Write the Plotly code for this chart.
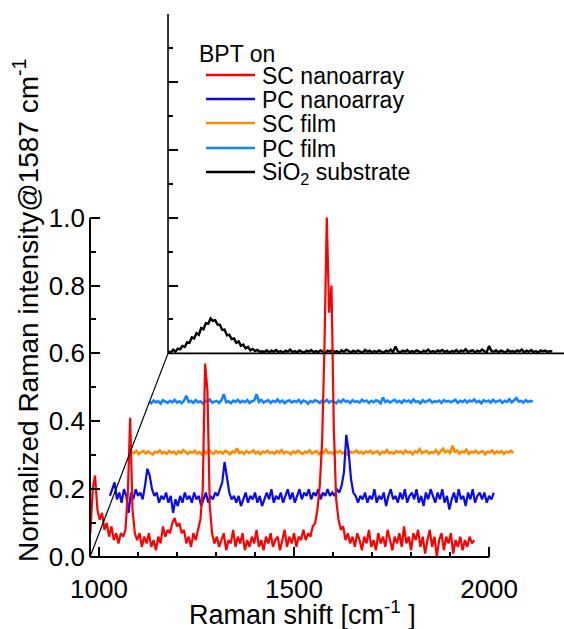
import plotly.graph_objects as go

# ---------------- data ----------------
WAVENUMBER = [
    978, 984, 990, 996, 1002, 1008, 1014, 1020, 1026, 1032,
    1038, 1044, 1050, 1056, 1062, 1068, 1074, 1080, 1086, 1092,
    1098, 1104, 1110, 1116, 1122, 1128, 1134, 1140, 1146, 1152,
    1158, 1164, 1170, 1176, 1182, 1188, 1194, 1200, 1206, 1212,
    1218, 1224, 1230, 1236, 1242, 1248, 1254, 1260, 1266, 1272,
    1278, 1284, 1290, 1296, 1302, 1308, 1314, 1320, 1326, 1332,
    1338, 1344, 1350, 1356, 1362, 1368, 1374, 1380, 1386, 1392,
    1398, 1404, 1410, 1416, 1422, 1428, 1434, 1440, 1446, 1452,
    1458, 1464, 1470, 1476, 1482, 1488, 1494, 1500, 1506, 1512,
    1518, 1524, 1530, 1536, 1542, 1548, 1554, 1560, 1566, 1572,
    1578, 1584, 1590, 1596, 1602, 1608, 1614, 1620, 1626, 1632,
    1638, 1644, 1650, 1656, 1662, 1668, 1674, 1680, 1686, 1692,
    1698, 1704, 1710, 1716, 1722, 1728, 1734, 1740, 1746, 1752,
    1758, 1764, 1770, 1776, 1782, 1788, 1794, 1800, 1806, 1812,
    1818, 1824, 1830, 1836, 1842, 1848, 1854, 1860, 1866, 1872,
    1878, 1884, 1890, 1896, 1902, 1908, 1914, 1920, 1926, 1932,
    1938, 1944, 1950, 1956, 1962,
]

SC_NANOARRAY = [
    0.07, 0.20, 0.24, 0.14, 0.11, 0.13, 0.08, 0.10, 0.06, 0.09,
    0.05, 0.07, 0.04, 0.07, 0.06, 0.08, 0.19, 0.41, 0.14, 0.07,
    0.05, 0.07, 0.03, 0.06, 0.04, 0.07, 0.03, 0.05, 0.02, 0.06,
    0.04, 0.09, 0.06, 0.08, 0.07, 0.10, 0.115, 0.09, 0.10, 0.07,
    0.08, 0.04, 0.06, 0.03, 0.07, 0.05, 0.08, 0.11, 0.20, 0.57,
    0.49, 0.15, 0.07, 0.04, 0.06, 0.03, 0.05, 0.07, 0.02, 0.05,
    0.04, 0.08, 0.03, 0.06, 0.04, 0.07, 0.02, 0.05, 0.03, 0.06,
    0.04, 0.08, 0.03, 0.05, 0.02, 0.06, 0.04, 0.07, 0.03, 0.05,
    0.06, 0.02, 0.05, 0.08, 0.03, 0.06, 0.04, 0.07, 0.03, 0.06,
    0.05, 0.08, 0.05, 0.07, 0.06, 0.09, 0.10, 0.14, 0.21, 0.34,
    0.62, 1.00, 0.72, 0.80, 0.38, 0.17, 0.11, 0.08, 0.09, 0.05,
    0.07, 0.04, 0.06, 0.03, 0.07, 0.05, 0.02, 0.06, 0.04, 0.08,
    0.03, 0.05, 0.02, 0.07, 0.04, 0.06, 0.03, 0.08, 0.05, 0.02,
    0.06, 0.04, 0.07, 0.03, 0.09, 0.04, 0.06, 0.02, 0.07, 0.05,
    0.08, 0.03, 0.06, 0.01, 0.05, 0.08, 0.03, 0.06, 0.00, 0.05,
    0.07, 0.02, 0.06, 0.04, 0.07, 0.01, 0.05, 0.03, 0.06, 0.02,
    0.05, 0.03, 0.06, 0.04, 0.05,
]

PC_NANOARRAY = [
    0.03, 0.05, 0.07, 0.02, 0.04, 0.01, 0.05, 0.03, -0.02, 0.04,
    0.02, 0.05, 0.03, 0.04, 0.02, 0.06, 0.11, 0.09, 0.05, 0.03,
    0.04, 0.01, 0.03, 0.02, 0.04, 0.01, 0.03, -0.02, 0.02, 0.00,
    0.03, 0.01, 0.04, 0.02, 0.03, 0.01, 0.04, 0.02, 0.03, 0.00,
    0.02, 0.04, 0.01, 0.03, 0.02, 0.04, 0.03, 0.05, 0.07, 0.13,
    0.08, 0.04, 0.02, 0.03, 0.01, 0.03, 0.00, 0.02, 0.04, 0.01,
    0.03, 0.02, 0.04, 0.01, 0.03, 0.00, 0.02, 0.04, 0.02, 0.05,
    0.01, 0.03, 0.02, 0.04, 0.01, 0.03, 0.05, 0.02, 0.04, 0.01,
    0.03, 0.05, 0.02, 0.04, 0.03, 0.05, 0.02, 0.04, 0.03, 0.05,
    0.02, 0.04, 0.03, 0.05, 0.03, 0.04, 0.03, 0.05, 0.04, 0.06,
    0.10, 0.21, 0.16, 0.08, 0.04, 0.03, 0.01, 0.03, 0.02, 0.04,
    0.01, 0.03, 0.02, 0.05, 0.01, 0.03, 0.02, 0.04, 0.00, 0.03,
    0.05, 0.02, 0.03, 0.01, 0.04, 0.02, 0.05, 0.01, 0.03, 0.04,
    0.02, 0.05, 0.01, 0.03, 0.00, 0.04, 0.02, 0.05, 0.03, 0.01,
    0.04, 0.02, 0.05, 0.01, 0.03, -0.01, 0.02, 0.04, 0.01, 0.05,
    0.02, 0.03, 0.00, 0.04, 0.02, 0.05, 0.01, 0.03, 0.04, 0.02,
    0.04, 0.01, 0.03, 0.02, 0.04,
]

SC_FILM = [
    0.004, 0.010, 0.006, 0.013, 0.003, 0.009, 0.012, 0.005, 0.011, 0.007,
    0.002, 0.010, 0.008, 0.014, 0.005, 0.009, 0.004, 0.012, 0.007, 0.010,
    0.003, 0.011, 0.006, 0.015, 0.008, 0.004, 0.010, 0.007, 0.013, 0.005,
    0.009, 0.002, 0.011, 0.006, 0.016, 0.008, 0.004, 0.012, 0.007, 0.010,
    0.005, 0.013, 0.009, 0.003, 0.011, 0.008, 0.020, 0.006, 0.010, 0.004,
    0.012, 0.007, 0.009, 0.014, 0.005, 0.010, 0.003, 0.011, 0.008, 0.013,
    0.006, 0.009, 0.004, 0.012, 0.007, 0.015, 0.005, 0.010, 0.008, 0.003,
    0.011, 0.006, 0.013, 0.009, 0.004, 0.010, 0.007, 0.014, 0.005, 0.009,
    0.012, 0.003, 0.010, 0.007, 0.016, 0.006, 0.009, 0.004, 0.011, 0.008,
    0.013, 0.005, 0.010, 0.002, 0.012, 0.007, 0.009, 0.014, 0.006, 0.010,
    0.004, 0.011, 0.008, 0.013, 0.005, 0.009, 0.012, 0.003, 0.010, 0.007,
    0.015, 0.006, 0.009, 0.004, 0.012, 0.008, 0.011, 0.005, 0.014, 0.007,
    0.010, 0.003, 0.012, 0.008, 0.018, 0.006, 0.010, 0.013, 0.005, 0.009,
    0.007, 0.015, 0.004, 0.011, 0.019, 0.008, 0.013, 0.006, 0.028, 0.010,
    0.014, 0.005, 0.011, 0.008, 0.016, 0.004, 0.010, 0.007, 0.013, 0.006,
    0.009, 0.012, 0.003, 0.010, 0.008, 0.014, 0.005, 0.011, 0.007, 0.012,
    0.004, 0.010, 0.008, 0.013, 0.006,
]

PC_FILM = [
    0.008, 0.003, 0.011, 0.006, 0.009, 0.002, 0.012, 0.007, 0.004, 0.010,
    0.006, 0.013, 0.005, 0.009, 0.003, 0.011, 0.025, 0.007, 0.010, 0.004,
    0.012, 0.006, 0.009, 0.002, 0.011, 0.007, 0.014, 0.005, 0.008, 0.010,
    0.004, 0.012, 0.030, 0.006, 0.009, 0.003, 0.011, 0.007, 0.013, 0.005,
    0.010, 0.006, 0.012, 0.004, 0.009, 0.011, 0.030, 0.007, 0.013, 0.005,
    0.009, 0.012, 0.004, 0.010, 0.007, 0.014, 0.006, 0.011, 0.003, 0.009,
    0.012, 0.005, 0.010, 0.007, 0.013, 0.004, 0.011, 0.008, 0.002, 0.010,
    0.006, 0.012, 0.009, 0.004, 0.011, 0.007, 0.013, 0.005, 0.010, 0.008,
    0.003, 0.011, 0.006, 0.014, 0.008, 0.010, 0.004, 0.012, 0.007, 0.009,
    0.005, 0.013, 0.008, 0.011, 0.004, 0.010, 0.006, 0.012, 0.009, 0.003,
    0.020, 0.007, 0.011, 0.005, 0.009, 0.013, 0.006, 0.010, 0.004, 0.012,
    0.008, 0.011, 0.005, 0.014, 0.007, 0.009, 0.003, 0.012, 0.006, 0.010,
    0.013, 0.005, 0.009, 0.007, 0.011, 0.004, 0.012, 0.008, 0.010, 0.006,
    0.009, 0.013, 0.004, 0.010, 0.007, 0.012, 0.005, 0.011, 0.008, 0.014,
    0.006, 0.010, 0.003, 0.012, 0.008, 0.011, 0.005, 0.013, 0.007, 0.009,
    0.012, 0.004, 0.010, 0.007, 0.015, 0.006, 0.011, 0.018, 0.008, 0.010,
    0.005, 0.012, 0.007, 0.010, 0.008,
]

SIO2_SUBSTRATE = [
    0.006, 0.002, 0.011, 0.005, 0.014, 0.012, 0.022, 0.019, 0.033, 0.031,
    0.047, 0.044, 0.060, 0.055, 0.075, 0.071, 0.089, 0.087, 0.103, 0.096,
    0.098, 0.085, 0.084, 0.069, 0.070, 0.053, 0.055, 0.042, 0.044, 0.031,
    0.035, 0.022, 0.026, 0.015, 0.019, 0.009, 0.013, 0.007, 0.010, 0.005,
    0.006, 0.004, 0.009, 0.003, 0.008, 0.005, 0.010, 0.004, 0.007, 0.002,
    0.008, 0.005, 0.011, 0.004, 0.007, 0.003, 0.009, 0.006, 0.002, 0.008,
    0.005, 0.010, 0.003, 0.007, 0.004, 0.009, 0.006, 0.001, 0.008, 0.005,
    0.010, 0.004, 0.007, 0.002, 0.009, 0.005, 0.011, 0.006, 0.003, 0.008,
    0.004, 0.009, 0.006, 0.002, 0.010, 0.005, 0.008, 0.003, 0.007, 0.004,
    0.009, 0.006, 0.002, 0.008, 0.005, 0.011, 0.004, 0.020, 0.006, 0.003,
    0.008, 0.005, 0.010, 0.003, 0.007, 0.004, 0.009, 0.006, 0.002, 0.008,
    0.005, 0.011, 0.004, 0.007, 0.003, 0.009, 0.006, 0.010, 0.004, 0.008,
    0.002, 0.007, 0.005, 0.010, 0.003, 0.008, 0.006, 0.012, 0.004, 0.007,
    0.009, 0.003, 0.008, 0.005, 0.011, 0.006, 0.004, 0.022, 0.007, 0.005,
    0.009, 0.003, 0.008, 0.006, 0.002, 0.010, 0.005, 0.007, 0.004, 0.009,
    0.006, 0.011, 0.003, 0.008, 0.005, 0.010, 0.004, 0.007, 0.002, 0.009,
    0.006, 0.008, 0.004, 0.007, 0.005,
]

SERIES_NAMES = ["SC nanoarray", "PC nanoarray", "SC film", "PC film",
                "SiO<sub>2</sub> substrate"]
SERIES_VALUES = [SC_NANOARRAY, PC_NANOARRAY, SC_FILM, PC_FILM, SIO2_SUBSTRATE]
SERIES_COLORS = ["#FF0000", "#0A0AF0", "#FF8A00", "#1284FF", "#000000"]
SERIES_WIDTHS = [2.2, 2.2, 2.6, 2.6, 2.4]
# waterfall offsets (x in cm-1, y in normalized intensity)
OFFSET_X = [0, 50, 100, 150, 200]
OFFSET_Y = [0.0, 0.15, 0.30, 0.45, 0.60]

X_TICKS = [1000, 1500, 2000]
X_MINOR = [1100, 1200, 1300, 1400, 1600, 1700, 1800, 1900]
Y_TICKS = [0.0, 0.2, 0.4, 0.6, 0.8, 1.0]
Y_MINOR = [0.1, 0.3, 0.5, 0.7, 0.9]
BACK_TICKS = [0.8, 1.0, 1.2, 1.4, 1.6]
BACK_MINOR = [0.7, 0.9, 1.1, 1.3, 1.5]

for v in SERIES_VALUES:
    assert len(v) == len(WAVENUMBER)

# ---------------- layout geometry ----------------
W, H = 564, 629
ML, MR, MT, MB = 90, 0, 14, 72
X0, Y0 = 977, 0.0          # origin of front axes
X_END, Y_END = 2000, 1.0   # end of front axes
X_RANGE = [X0, 2192]
Y_RANGE = [Y0, 1.6]
BX, BY = X0 + OFFSET_X[-1], Y0 + OFFSET_Y[-1]   # origin of back axes

FONT = "Liberation Sans, Arial, Helvetica, sans-serif"
PW, PH = W - ML - MR, H - MT - MB


def px(xp):
    return (xp - ML) / PW


def py(yp):
    return (H - MB - yp) / PH


def xfrac(x):
    return (x - X_RANGE[0]) / (X_RANGE[1] - X_RANGE[0])


fig = go.Figure()

# draw back-to-front: SiO2 first, SC nanoarray last
for i in reversed(range(len(SERIES_VALUES))):
    fig.add_trace(go.Scatter(
        x=[w + OFFSET_X[i] for w in WAVENUMBER],
        y=[v + OFFSET_Y[i] for v in SERIES_VALUES[i]],
        mode="lines",
        name=SERIES_NAMES[i],
        line=dict(color=SERIES_COLORS[i], width=SERIES_WIDTHS[i]),
        showlegend=False,
        hoverinfo="skip",
    ))

# empty trace so the "back plane" subplot (x2/y2) exists for its tick marks
fig.add_trace(go.Scatter(x=[], y=[], xaxis="x2", yaxis="y2", mode="lines",
                         showlegend=False, hoverinfo="skip"))

shapes = [
    # front y axis (paper x so it is not clipped at the plot edge)
    dict(type="line", xref="paper", yref="y", x0=0, x1=0, y0=Y0, y1=Y_END,
         line=dict(color="black", width=2)),
    # front x axis
    dict(type="line", xref="x", yref="paper", x0=X0, x1=X_END, y0=0, y1=0,
         line=dict(color="black", width=2)),
    # diagonal
    dict(type="line", xref="x", yref="y", x0=X0, y0=Y0, x1=BX, y1=BY,
         line=dict(color="black", width=1.2)),
    # back vertical axis
    dict(type="line", xref="x", yref="y", x0=BX, y0=BY, x1=BX, y1=Y_RANGE[1],
         line=dict(color="black", width=1.6)),
    # back baseline
    dict(type="line", xref="x", yref="y", x0=BX, y0=BY, x1=X_RANGE[1], y1=BY,
         line=dict(color="black", width=1.6)),
]

# manual legend
LEG_ROWS = [75, 99, 123, 148, 172]
for i, yp in enumerate(LEG_ROWS):
    shapes.append(dict(type="line", xref="paper", yref="paper",
                       x0=px(206), x1=px(255), y0=py(yp), y1=py(yp),
                       line=dict(color=SERIES_COLORS[i], width=2.5)))

annotations = [
    dict(text="BPT on", xref="paper", yref="paper", x=px(197), y=py(54),
         xanchor="left", yanchor="middle", showarrow=False,
         font=dict(family=FONT, size=23, color="black")),
]
for i, yp in enumerate(LEG_ROWS):
    annotations.append(dict(text=SERIES_NAMES[i], xref="paper", yref="paper",
                            x=px(260), y=py(yp + 1), xanchor="left", yanchor="middle",
                            showarrow=False,
                            font=dict(family=FONT, size=23, color="black")))
annotations.append(dict(text="Raman shift [cm<sup>-1</sup> ]", xref="paper", yref="paper",
                        x=px(302), y=py(613), xanchor="center", yanchor="middle",
                        showarrow=False, font=dict(family=FONT, size=27, color="black")))
annotations.append(dict(text="Normalized Raman intensity@1587 cm<sup>-1</sup>",
                        xref="paper", yref="paper", x=px(26), y=py(311),
                        xanchor="center", yanchor="middle", textangle=-90,
                        showarrow=False, font=dict(family=FONT, size=28, color="black")))

fig.update_layout(
    width=W, height=H,
    margin=dict(l=ML, r=MR, t=MT, b=MB, pad=0),
    paper_bgcolor="white", plot_bgcolor="rgba(0,0,0,0)",
    font=dict(family=FONT, size=26, color="black"),
    showlegend=False,
    shapes=shapes,
    annotations=annotations,
    xaxis=dict(
        range=X_RANGE, domain=[0, 1], anchor="y",
        showgrid=False, zeroline=False, showline=False,
        tickmode="array", tickvals=X_TICKS, ticktext=[str(t) for t in X_TICKS],
        ticks="inside", ticklen=10, tickwidth=1.6, tickcolor="black",
        ticklabelstandoff=14,
        minor=dict(tickmode="array", tickvals=X_MINOR, ticks="inside",
                   ticklen=5, tickwidth=1.6, tickcolor="black", showgrid=False),
        tickfont=dict(family=FONT, size=26),
    ),
    yaxis=dict(
        range=Y_RANGE, domain=[0, 1], anchor="x",
        showgrid=False, zeroline=False, showline=False,
        tickmode="array", tickvals=Y_TICKS, ticktext=[f"{t:.1f}" for t in Y_TICKS],
        ticks="inside", ticklen=10, tickwidth=1.6, tickcolor="black",
        ticklabelstandoff=4,
        minor=dict(tickmode="array", tickvals=Y_MINOR, ticks="inside",
                   ticklen=6, tickwidth=1.6, tickcolor="black", showgrid=False),
        tickfont=dict(family=FONT, size=26),
    ),
    # back plane: x2 starts at the back origin, y2 is drawn along its left edge
    xaxis2=dict(
        range=[BX, X_RANGE[1]], domain=[xfrac(BX), 1], anchor="y2",
        visible=False, showgrid=False, zeroline=False,
    ),
    yaxis2=dict(
        range=Y_RANGE, domain=[0, 1], anchor="x2", side="left",
        showgrid=False, zeroline=False, showline=False, showticklabels=False,
        tickmode="array", tickvals=BACK_TICKS,
        ticks="inside", ticklen=10, tickwidth=1.6, tickcolor="black",
        minor=dict(tickmode="array", tickvals=BACK_MINOR, ticks="inside",
                   ticklen=5, tickwidth=1.6, tickcolor="black", showgrid=False),
    ),
)

fig.write_html("out.html", config={"displayModeBar": False},
               post_script="document.body.style.margin='0px';")
